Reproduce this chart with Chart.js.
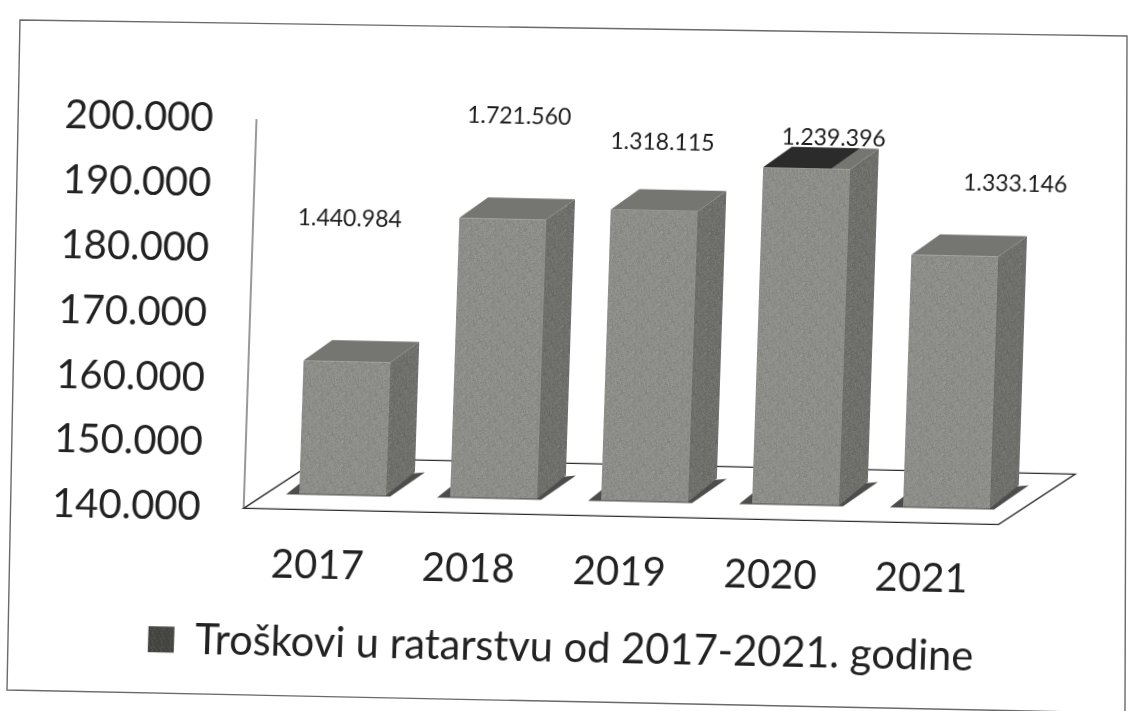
<!DOCTYPE html>
<html><head><meta charset="utf-8">
<style>
html,body{margin:0;padding:0;background:#fff;overflow:hidden;width:1129px;height:711px}
#wrap{position:absolute;left:0;top:0;width:1129px;height:711px;transform:matrix(1,0.0215,-0.033,1,0,0);transform-origin:564px 355px}
#c{display:block}
#frame{position:absolute;left:0;top:0}
</style>
<script src="https://cdn.jsdelivr.net/npm/chart.js@4"></script>
</head><body>
<svg id="frame" width="1129" height="711"><polygon points="1127,36 20,20 7,690 1125,713" fill="none" stroke="#6a6a6a" stroke-width="1.4"/></svg>
<div id="wrap"><canvas id="c" width="1129" height="711"></canvas></div>
<script>
const categories=['2017','2018','2019','2020','2021'];
const seriesValues=[160500,183000,184800,191800,178800];
const dataLabels=['1.440.984','1.721.560','1.318.115','1.239.396','1.333.146'];
const seriesName='Troškovi u ratarstvu od 2017-2021. godine';
const tickValues=[140000,150000,160000,170000,180000,190000,200000];
const labelOffsetX=[-2,13,6,26,58];
const labelOffsetY=[143,103,68,31,73];
const topStainShare=[0,0,0,0.78,0];

const fmt=v=>String(v).replace(/\B(?=(\d{3})+$)/g,'.');
const FONT='Lato, sans-serif';
const shiftX=23,shiftY=-16,depthX=28,depthY=21;

function texture(base,w,h){
  const p=document.createElement('canvas');p.width=w;p.height=h;
  const g=p.getContext('2d');g.fillStyle=base;g.fillRect(0,0,w,h);
  for(let y=0;y<h;y++)for(let x=0;x<w;x++){
    const n=((x*37+y*91+(x*y)%17*13)%23)/23;
    const a=(n-0.5)*0.16;
    g.fillStyle=a>0?`rgba(255,255,255,${a})`:`rgba(0,0,0,${-a})`;
    g.fillRect(x,y,1,1);
  }
  return g.createPattern(p,'repeat');
}
const canvas=document.getElementById('c');
const frontFill=texture('#8e8e8a',24,24);
const sideFill=texture('#6f6f6c',24,24);
const legendFill=texture('#454542',9,9);

const threeD={
  id:'threeD',
  beforeDatasetsDraw(ch){
    const c=ch.ctx,m=ch.getDatasetMeta(0),y=ch.scales.y,a=ch.chartArea;
    const b=y.getPixelForValue(140000);
    c.save();
    c.fillStyle='#fff';c.strokeStyle='#2a2a2a';c.lineWidth=1.3;
    c.beginPath();c.moveTo(a.left,b);c.lineTo(a.left+75,b-52);c.lineTo(a.right+75,b-52);c.lineTo(a.right,b);c.closePath();c.fill();c.stroke();
    c.strokeStyle='#555';c.lineWidth=1.2;c.beginPath();c.moveTo(a.left,y.getPixelForValue(200000));c.lineTo(a.left,b);c.stroke();
    c.translate(shiftX,shiftY);
    m.data.forEach((r,i)=>{
      const l=r.x-r.width/2,rt=r.x+r.width/2,t=r.y;
      c.fillStyle='#4d4d4b';
      c.beginPath();c.moveTo(l-13,b+1);c.lineTo(l,b-10);c.lineTo(rt+38,b-24);c.lineTo(rt+4,b+1);c.closePath();c.fill();
      c.fillStyle=sideFill;
      c.beginPath();c.moveTo(rt,t);c.lineTo(rt+depthX,t-depthY);c.lineTo(rt+depthX,b-depthY-3);c.lineTo(rt,b);c.closePath();c.fill();
      c.fillStyle='#757572';
      c.beginPath();c.moveTo(l,t);c.lineTo(l+depthX,t-depthY);c.lineTo(rt+depthX,t-depthY);c.lineTo(rt,t);c.closePath();c.fill();
      if(topStainShare[i]>0){
        const w=r.width*topStainShare[i];
        c.fillStyle='#2b2b2b';
        c.beginPath();c.moveTo(l,t);c.lineTo(l+depthX,t-depthY);c.lineTo(l+depthX+w,t-depthY);c.lineTo(l+w,t);c.closePath();c.fill();
      }
    });
    c.restore();
    c.save();c.translate(shiftX,shiftY);
  },
  afterDatasetsDraw(ch){
    const c=ch.ctx,m=ch.getDatasetMeta(0);
    c.restore();
    c.save();
    c.fillStyle='#1c1c1c';c.font='23px '+FONT;
    c.textAlign='center';c.textBaseline='middle';
    m.data.forEach((r,i)=>c.fillText(dataLabels[i],r.x+shiftX+labelOffsetX[i],r.y+shiftY-labelOffsetY[i]));
    c.restore();
  }
};
new Chart(canvas,{
  type:'bar',
  data:{labels:categories,datasets:[{label:seriesName,data:seriesValues,backgroundColor:frontFill,borderWidth:0,barPercentage:0.576,categoryPercentage:1}]},
  options:{
    responsive:false,animation:false,
    layout:{padding:{left:12,right:0,top:126,bottom:32}},
    plugins:{
      tooltip:{enabled:false},
      legend:{position:'bottom',
        labels:{color:'#222',font:{size:41.6,family:FONT},boxWidth:26,boxHeight:26,padding:18,
          generateLabels(ch){return [{text:seriesName,fillStyle:legendFill,strokeStyle:'#333',lineWidth:0,datasetIndex:0,fontColor:'#222'}];}}}
    },
    scales:{
      x:{grid:{display:false},border:{display:false},ticks:{color:'#222',font:{size:40,family:FONT},padding:24},afterFit(s){s.height=94;}},
      y:{min:140000,max:200000,border:{display:false},grid:{display:false},
        afterBuildTicks(s){s.ticks=tickValues.map(v=>({value:v}));},
        afterFit(s){s.width=237;},
        ticks:{color:'#222',padding:35,font:{size:40,family:FONT},callback:v=>fmt(v)}},
      yRight:{position:'right',min:140000,max:200000,border:{display:false},grid:{display:false},ticks:{display:false},afterFit(s){s.width=125;}}
    }
  },
  plugins:[threeD]
});
</script>
</body></html>
